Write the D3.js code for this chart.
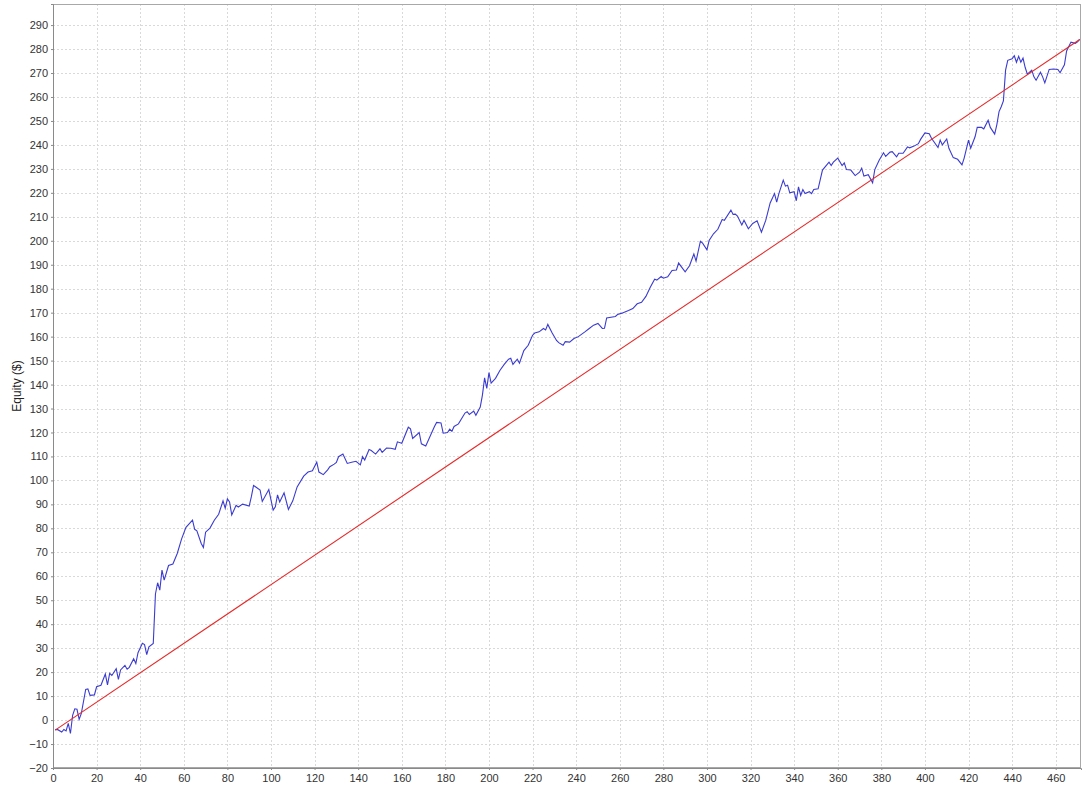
<!DOCTYPE html>
<html>
<head>
<meta charset="utf-8">
<script src="https://cdn.jsdelivr.net/npm/d3@7"></script>
<style>
  html, body { margin: 0; padding: 0; background: #ffffff; }
  svg { display: block; }
</style>
</head>
<body>
<svg id="chart" width="1089" height="788"></svg>
<script>
// ---- data ----
const trades = [1,2,4,5,6,7,8,9,10,11,12,13,15,16,17,19,20,22,24,25,26,27,29,30,31,33,34,35,37,38,39,41,42,43,44,46,47,48,49,50,51,53,55,57,59,61,64,65,66,68,69,70,72,74,76,78,79,80,81,82,84,85,87,90,91,92,95,96,99,101,102,103,104,106,108,110,112,115,117,119,121,122,124,126,127,129,130,131,133,135,137,139,141,142,143,145,146,148,150,151,153,155,157,158,160,163,164,165,168,169,171,173,175,176,178,179,181,182,183,184,186,189,190,191,193,194,196,197,198,199,200,201,203,205,207,209,210,211,213,214,216,218,220,221,223,225,226,227,229,231,232,234,235,237,239,241,244,246,248,250,252,253,254,258,259,261,264,266,268,270,272,274,276,277,279,280,282,284,286,287,290,292,294,295,297,298,300,301,303,305,307,308,311,312,313,314,316,317,319,321,323,325,327,329,331,332,333,335,336,337,338,340,341,342,343,344,345,347,348,349,351,353,356,357,358,360,362,363,364,366,368,370,371,372,374,376,377,379,381,382,384,385,387,388,390,392,393,395,397,398,400,402,403,406,407,408,410,411,413,415,417,418,420,421,423,424,426,427,429,430,432,433,434,435,436,437,438,440,441,442,443,444,445,446,447,449,450,451,453,454,455,457,459,461,462,464,465,467,469,470,471];
const equity = [-4,-3.9,-5,-3.9,-4.5,-1.4,-5.6,2,4.7,4.5,0.3,2.8,12.8,13,10.3,10.5,13.9,14.5,19.2,14.7,19.5,18.6,21.4,17,20.9,22.8,21.2,22,25.6,23.6,28.1,32,31.5,27.3,30.6,32,52.6,57.3,54.2,62.6,58.4,64.5,65.1,69.5,75.6,80.4,83.4,79.6,79,73.7,72,78.4,80.1,83.4,85.9,91.5,88.4,92.3,91,85.6,89.6,88.9,90.1,89.3,93.2,97.9,96,91.2,96.2,87.6,89,94,91,94.8,87.9,91.5,97.3,101.8,103.5,104,107.6,103.5,102.4,104.4,105.7,106.8,107.5,109.9,111,107.1,107.6,108,106.5,109.9,108.5,112.9,112.5,111,113.2,111.7,113.5,113.4,113,116.1,115.5,122.2,121.5,117.5,120,115.3,114.4,118.4,122.5,124.2,124,119.7,120,121.4,120.5,122.5,123.6,128.1,128.7,127.5,128.9,127.2,130.6,135.6,142.8,138.4,145,140.6,142.6,145.9,148.4,150.6,151,148.4,150.6,148.9,154.2,156.4,160.6,161.5,162,163.4,162.8,165.1,161.5,158.4,157.5,156.4,157.9,157.7,159.2,160,162,163.4,164.8,165.5,163.4,163.5,167.8,168.4,169.2,169.8,170.9,171.7,173.7,174.3,176.8,180.6,184,183.6,185.1,184.4,185,187.6,187.8,190.7,187,189.6,194.5,191.5,199.8,199,196.2,200.1,202.9,204.8,208.9,208.5,212.8,211,211.1,210.3,206.6,208.6,205,207.2,208.3,203.6,208.6,215.8,219.7,216.1,219.7,225.3,222.8,223.2,220,220.5,216.7,222.5,218.9,221.4,219.7,220.5,219.7,221.4,221.7,229.5,232.8,231.4,232.8,234.5,231.4,232.5,229.7,229.5,227.2,228.6,230.3,227,227.6,224.2,229.7,233.6,236.7,235.2,237,237.2,235,236.5,236.5,239.2,238.8,239.5,240.5,242.3,245,244.7,242.8,238.9,242,240,242.5,238.6,234.7,234,231.7,234.5,242,238.6,243.4,247.3,247.3,246.7,250.3,247.3,244.5,248.5,253.9,255.9,258.4,271.2,275.3,275.9,277.2,274.5,277,274.5,276.2,272.3,269.5,271.2,268.4,267,270.3,268.4,265.9,271.5,271.7,271.5,270.1,273.4,279.2,282.9,282.4,283,284];
const trendTrades = [1, 471];
const trendEquity = [-4.2, 284];
const xTicks = d3.range(0, 461, 20);
const yTicks = d3.range(-20, 291, 10);
const yAxisTitle = "Equity ($)";

// ---- layout ----
const W = 1089, H = 788;
const m = { left: 53, right: 8, top: 4, bottom: 20 };
const svg = d3.select("#chart");

const x = d3.scaleLinear().domain([0, 471.6]).range([m.left, W - m.right]);
const y = d3.scaleLinear().domain([-20, 298.8]).range([H - m.bottom, m.top]);

const font = "'Liberation Sans', Arial, sans-serif";

// gridlines
const grid = svg.append("g");
grid.selectAll("line.gx").data(xTicks.filter(d => d > 0)).join("line")
  .attr("x1", d => Math.round(x(d)) + 0.5).attr("x2", d => Math.round(x(d)) + 0.5)
  .attr("y1", m.top).attr("y2", H - m.bottom)
  .attr("stroke", "#d9d9d9").attr("stroke-width", 1).attr("stroke-dasharray", "2,2");
grid.selectAll("line.gy").data(yTicks.filter(d => d > -20)).join("line")
  .attr("y1", d => Math.round(y(d)) + 0.5).attr("y2", d => Math.round(y(d)) + 0.5)
  .attr("x1", m.left).attr("x2", W - m.right)
  .attr("stroke", "#d9d9d9").attr("stroke-width", 1).attr("stroke-dasharray", "2,2");

// plot outline
svg.append("rect")
  .attr("x", m.left + 0.5).attr("y", m.top + 0.5)
  .attr("width", W - m.left - m.right - 1).attr("height", H - m.top - m.bottom - 1)
  .attr("fill", "none").attr("stroke", "#a8a8a8").attr("stroke-width", 1);

// axes
const xAxis = svg.append("g")
  .attr("transform", `translate(0,${H - m.bottom})`)
  .call(d3.axisBottom(x).tickValues(xTicks).tickSize(2).tickPadding(2).tickFormat(d3.format("d")));
const yAxis = svg.append("g")
  .attr("transform", `translate(${m.left},0)`)
  .call(d3.axisLeft(y).tickValues(yTicks).tickSize(2).tickPadding(3).tickFormat(d3.format("d")));
[xAxis, yAxis].forEach(a => {
  a.select(".domain").attr("stroke", "#8a8a8a");
  a.selectAll(".tick line").attr("stroke", "#8a8a8a");
  a.selectAll(".tick text").attr("fill", "#333").style("font-family", font).style("font-size", "11px");
});
xAxis.selectAll(".tick text").attr("dy", "0.95em");

// y axis title
svg.append("text")
  .attr("transform", `translate(21,${(m.top + H - m.bottom) / 2}) rotate(-90)`)
  .attr("text-anchor", "middle")
  .style("font-family", font).style("font-size", "12px").attr("fill", "#222")
  .text(yAxisTitle);

// series
const clip = svg.append("clipPath").attr("id", "pc").append("rect")
  .attr("x", m.left).attr("y", m.top).attr("width", W - m.left - m.right).attr("height", H - m.top - m.bottom);

const line = d3.line().x(d => x(d[0])).y(d => y(d[1]));
svg.append("path")
  .attr("clip-path", "url(#pc)")
  .attr("d", line(trades.map((t, i) => [t, equity[i]])))
  .attr("fill", "none").attr("stroke", "#3b3bd0").attr("stroke-width", 1.1);

svg.append("path")
  .attr("clip-path", "url(#pc)")
  .attr("d", line(trendTrades.map((t, i) => [t, trendEquity[i]])))
  .attr("fill", "none").attr("stroke", "#e52a2a").attr("stroke-width", 1.1);
</script>
</body>
</html>
